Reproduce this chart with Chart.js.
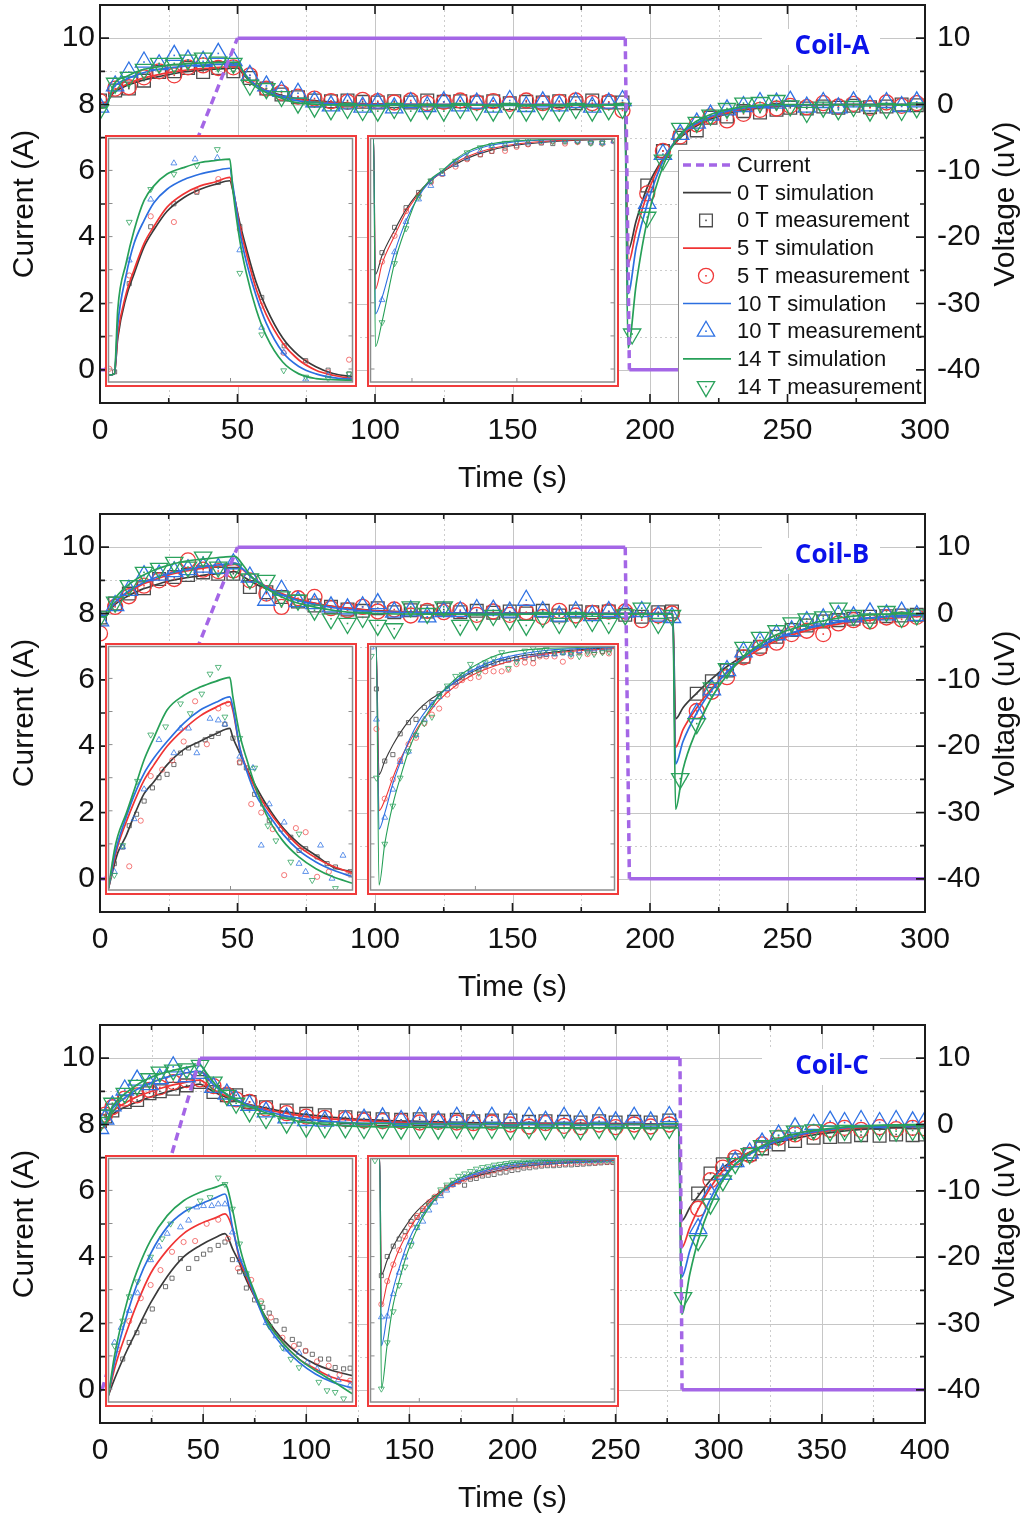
<!DOCTYPE html>
<html>
<head>
<meta charset="utf-8">
<script src="https://cdn.jsdelivr.net/npm/chart.js@4.4.1/dist/chart.umd.min.js"></script>
<style>
  html, body { margin: 0; padding: 0; background: #fff; }
  #fig { position: relative; width: 1036px; height: 1517px; overflow: hidden; }
  .panel { position: absolute; left: 0; width: 1036px; height: 497px; }
  .panel > canvas { position: absolute; left: 0; top: 0; }
  .inset { position: absolute; width: 252px; height: 252px; border: 2px solid #f03c3c; box-sizing: border-box; background: #fff; }
  .inset canvas { position: absolute; left: 0; top: 0; display: block; }
</style>
</head>
<body>
<div id="fig"></div>
<script>
"use strict";

// ---------- shared labels / ticks ----------
const FIELD_LABELS = ["0 T", "5 T", "10 T", "14 T"];
const X_TICKS_300 = [0, 50, 100, 150, 200, 250, 300];
const X_TICKS_400 = [0, 50, 100, 150, 200, 250, 300, 350, 400];
const LEFT_TICKS = [0, 2, 4, 6, 8, 10];
const RIGHT_TICKS = [-40, -30, -20, -10, 0, 10];

// ---------- Coil-A (time s, current A, voltage uV) ----------
const A_CUR_T = [0, 2, 50, 191, 192.5, 300];
const A_CUR_I = [0, 0, 10, 10, 0, 0];
const A_MEAS_T = [0, 5.5, 10.5, 16, 21.5, 27, 32, 37.5, 43, 48.5, 54.5, 60.5, 66, 72, 78, 84, 90, 95.5, 101, 107,
  113, 119, 125, 131, 137, 143, 149, 155, 161, 167, 173, 179, 185, 190, 193.5, 199, 204.7, 211, 217, 222,
  228, 234, 240, 246, 251, 257, 263, 268.5, 274, 280, 286, 291.5, 297];
const A_MEAS_0T = [0.6, 2.1, 2.4, 3.6, 4.9, 5.0, 5.5, 4.9, 5.5, 5.0, 4.0, 2.4, 1.5, 1.1, 0.6, 0.5, 0.6, 0.4, 0.3, 0.5,
  0.3, 0.6, 0.4, 0.5, 0.3, 0.5, 0.2, 0.4, 0.3, 0.5, 0.2, 0.6, 0.3, 0.3, null, -12.2, -7.0, -5.0, -3.9, -2.0,
  -1.8, -1.0, -1.2, -0.8, -0.5, -0.6, -0.3, -0.5, -0.2, -0.4, -0.3, 0, -0.1];
const A_MEAS_5T = [0.5, 2.4, 2.6, 4.1, 5.0, 4.4, 5.6, 5.9, 5.5, 5.6, 4.4, 2.4, 1.8, 1.2, 0.9, 0.5, 0.4, 0.7, 0.5, 0.3,
  0.6, 0.2, 0.4, 0.6, 0.3, 0.5, 0.1, 0.6, 0.2, 0.4, 0.6, 0.2, 0.4, -0.9, null, -13.4, -7.0, -4.8, -3.0, -1.8,
  -2.4, -1.4, -0.8, -0.6, -0.2, -0.4, 0.2, -0.3, 0.1, -0.5, 0.3, -0.2, 0.2];
const A_MEAS_10T = [-0.4, 2.8, 4.9, 6.4, 6.0, 7.4, 6.7, 6.5, 7.7, 6.6, 4.4, 2.8, 2.0, 1.7, 0.4, -0.2, 0.1, -0.4, 0.2, -0.5,
  0.3, -0.3, 0.4, -0.2, 0.2, -0.4, 0.6, -0.3, 0.4, -0.2, 0.3, -0.4, 0.2, 0.6, null, -14.9, -7.5, -4.5, -2.8, -1.6,
  -0.8, -0.3, 0.3, 0.2, 0.5, -0.4, 0.3, -0.5, 0.4, -0.2, 0.3, -0.3, 0.4];
const A_MEAS_14T = [-0.8, 3.2, 4.1, 5.3, 6.2, 6.2, 6.7, 7.0, 6.4, 6.2, 2.9, 2.4, 1.2, 0.2, -0.4, -0.8, -0.6, -0.9, -1.0, -0.6,
  -1.0, -0.7, -1.0, -0.6, -0.9, -1.0, -0.6, -1.0, -0.8, -1.0, -0.6, -1.0, -0.8, -0.6, -34.6, -17.0, -8.4, -3.6, -2.7, -1.6,
  -0.6, 0.2, 0.3, 0.6, -0.2, -1.2, -0.4, -0.8, -0.3, -1.0, -0.6, -0.9, -0.5];
const A_SIM_T = [0, 2, 5, 10, 15, 20, 25, 30, 35, 40, 45, 50, 52, 55, 60, 65, 70, 80, 90, 100,
  120, 150, 190.8, 192, 195, 199, 205, 211, 217, 222, 230, 240, 250, 270, 300];
const A_SIM_0T = [0.3, 0.3, 1.8, 2.9, 3.6, 4.1, 4.5, 4.9, 5.1, 5.3, 5.4, 5.5, 4.6, 3.4, 2.2, 1.5, 1.0, 0.5, 0.2, 0.1,
  0, 0, 0, -22, -17.5, -12.5, -8, -5, -3.2, -2.2, -1.2, -0.5, -0.2, 0, 0];
const A_SIM_5T = [0.3, 0.3, 2.0, 3.1, 3.9, 4.4, 4.8, 5.1, 5.35, 5.5, 5.65, 5.75, 4.8, 3.5, 2.2, 1.4, 0.9, 0.4, 0.15, 0.05,
  0, 0, 0, -24, -19, -13.5, -8, -4.8, -3, -2, -1.0, -0.4, -0.15, 0, 0];
const A_SIM_10T = [0, 0, 2.6, 3.9, 4.7, 5.2, 5.5, 5.75, 5.9, 6.0, 6.1, 6.15, 5.0, 3.5, 2.1, 1.3, 0.7, 0.25, 0.05, 0,
  0, 0, 0, -28.5, -21.5, -15, -8.3, -4.6, -2.8, -1.8, -0.8, -0.3, -0.1, 0, 0];
const A_SIM_14T = [-0.5, -0.5, 3.0, 4.3, 5.2, 5.6, 5.95, 6.1, 6.25, 6.3, 6.35, 6.4, 5.0, 3.2, 1.9, 1.1, 0.4, 0.0, -0.1, -0.15,
  -0.1, -0.1, -0.1, -36.7, -27, -17.5, -9, -4.5, -2.5, -1.5, -0.6, -0.1, 0, 0, 0];

// Coil-A inset 1 (ramp-up / decay)
const IN1_SIM_T = [0, 2.4, 3.8, 7.2, 10.5, 14.6, 18.6, 24, 30.8, 37.6, 44, 49.7, 51, 53.8, 56.5, 60.5, 64.6, 71.4, 78, 85, 92, 100];
const A_IN1_SIM_0T = [0, 0.04, 1.1, 2.3, 3.0, 3.8, 4.3, 4.85, 5.25, 5.5, 5.65, 5.75, 5.45, 4.5, 3.75, 2.75, 2.0, 1.1, 0.58, 0.25, 0.05, -0.05];
const A_IN1_SIM_5T = [0, 0.04, 1.2, 2.4, 3.12, 3.9, 4.4, 4.97, 5.36, 5.6, 5.72, 5.85, 5.5, 4.4, 3.6, 2.55, 1.8, 0.95, 0.45, 0.15, 0.0, -0.1];
const A_IN1_SIM_10T = [0, 0.04, 1.5, 2.95, 3.9, 4.58, 5.1, 5.5, 5.78, 5.95, 6.05, 6.12, 5.6, 4.25, 3.35, 2.35, 1.55, 0.68, 0.26, 0.04, -0.07, -0.12];
const A_IN1_SIM_14T = [0, 0.04, 1.95, 3.31, 4.29, 5.17, 5.6, 5.95, 6.14, 6.29, 6.35, 6.39, 5.46, 3.99, 3.02, 1.95, 1.17, 0.39, 0.04, -0.1, -0.13, -0.15];
const A_IN1_MEAS_0T = [[2.5, 0.1], [8.5, 2.71], [17.3, 4.39], [26.8, 5.07], [36.2, 5.41], [45, 5.7], [53.8, 4.4], [62.8, 2.3], [72, 0.87], [80.8, 0.43], [90, 0.15], [98.6, 0.04]];
const A_IN1_MEAS_5T = [[0.3, 0.19], [8.5, 2.95], [17.3, 4.7], [26.8, 4.53], [36.2, 5.45], [45, 5.8], [53.8, 4.32], [62.8, 2.06], [71.8, 0.66], [80.8, 0.39], [90, 0.09], [98.6, 0.46]];
const A_IN1_MEAS_10T = [[8.5, 3.4], [17.3, 5.2], [26.8, 6.27], [35.5, 6.39], [44.6, 6.43], [53.8, 3.7], [62.8, 1.41], [71.8, 0.68], [80.8, -0.12], [90, 0.0], [98.6, -0.1]];
const A_IN1_MEAS_14T = [[8.5, 4.53], [17.3, 5.5], [26.8, 5.95], [36.2, 6.2], [44.6, 6.68], [53.8, 3.02], [62.8, 1.2], [71.8, 0.14], [80.8, -0.05], [90, -0.1], [98.6, 0.04]];

// Coil-A inset 2 (recovery after the discharge)
const A_IN2_SIM_T = [190, 190.9, 191.4, 193.3, 196.9, 200.2, 203.5, 206.8, 210.6, 214.4, 218.2, 223.9, 230.5, 240, 250, 260];
const A_IN2_SIM_0T = [0.3, 0.3, -23.9, -20.5, -16.0, -12.3, -9.5, -7.4, -5.7, -4.3, -3.1, -1.9, -1.0, -0.35, 0, 0.2];
const A_IN2_SIM_5T = [0.3, 0.3, -26.5, -22.0, -17.0, -12.8, -9.8, -7.5, -5.6, -4.0, -2.8, -1.6, -0.8, -0.2, 0.1, 0.3];
const A_IN2_SIM_10T = [0.3, 0.3, -30.9, -28.0, -20.0, -14.3, -10.3, -7.5, -5.5, -3.6, -2.2, -1.0, -0.35, 0.05, 0.2, 0.3];
const A_IN2_SIM_14T = [0.3, 0.3, -36.7, -32.3, -21.8, -15.4, -10.1, -7.2, -5.4, -3.4, -1.9, -0.75, -0.17, 0.12, 0.25, 0.3];
const A_IN2_MEAS_T = [193.3, 196.9, 200.2, 203.8, 207.3, 210.6, 214.4, 217.7, 221.5, 224.8, 228.6, 231.9, 235.2, 239.0, 242.3, 245.8, 249.4, 253.2, 256.5, 259.8];
const A_IN2_MEAS_0T = [-20.0, -15.5, -12.0, -9.3, -7.3, -6.0, -4.3, -3.3, -2.6, -2.0, -1.4, -1.0, -0.7, -0.5, -0.6, -0.3, -0.2, -0.5, -0.3, 0.0];
const A_IN2_MEAS_5T = [-21.6, -17.0, -12.6, -9.8, -7.5, -6.0, -4.7, -3.4, -2.5, -1.9, -1.9, -1.2, -0.75, -0.35, -0.2, -0.6, -0.35, -0.2, -0.6, -0.2];
const A_IN2_MEAS_10T = [-28.4, -19.9, -14.5, -10.5, -8.1, -6.0, -4.3, -3.1, -1.9, -1.0, -0.75, -0.5, -0.35, -0.2, 0.0, 0.0, -0.05, -0.2, -0.5, -0.2];
const A_IN2_MEAS_14T = [-32.4, -21.9, -15.7, -10.1, -7.2, -5.4, -3.7, -2.2, -1.3, -0.9, -0.5, -0.2, -0.05, -0.05, -0.2, -0.05, -0.2, -0.5, -0.5, 0.1];

// ---------- Coil-B ----------
const B_CUR_T = [0, 2, 50, 191, 192.5, 300];
const B_CUR_I = [0, 0, 10, 10, 0, 0];
const B_MEAS_T = [0, 5.5, 10.5, 16, 21.5, 27, 32, 37.5, 43, 48.5, 54.5, 60.5, 66, 72, 78, 84, 90, 95.5, 101, 107,
  113, 119, 125, 131, 137, 143, 149, 155, 161, 167, 173, 179, 185, 191, 197, 203, 208, 211, 217, 222.5,
  228, 234, 240, 246, 251.5, 257, 263, 268.5, 274, 280, 286, 291.5, 297];
const B_MEAS_0T = [-0.6, 1.5, 3.0, 3.8, 5.2, 5.5, 5.8, 6.2, 6.0, 6.0, 4.0, 3.2, 2.5, 1.8, 1.2, 1.0, 0.6, 0.4, 0.8, 0.2,
  0.5, 0.3, 0.6, 0.2, 0.4, 0.1, 0.3, 0.0, 0.4, -0.3, 0.3, 0.2, 0.3, -0.2, -0.5, 0.2, 0.3, null, -12.1, -10.2,
  -8.6, -6.5, -5.0, -3.5, -2.5, -1.8, -1.2, -1.0, -0.8, -0.5, -0.4, -0.3, -0.2];
const B_MEAS_5T = [-3.0, 1.0, 2.6, 4.2, 5.0, 5.2, 8.0, 6.6, 6.4, 6.5, 5.0, 3.0, 1.0, 2.3, 2.5, 0.8, 0.5, 1.0, 0.3, 0.6,
  -0.3, 0.4, 0.2, 0.5, -0.2, 0.3, -0.2, 0.2, -0.5, 0.4, -0.3, 0.1, 0.3, 0.3, -1.0, -0.3, 0.0, null, -14.7, -11.8,
  -9.6, -6.6, -5.2, -4.4, -3.1, -2.6, -3.1, -1.5, -1.0, -1.2, -0.6, -0.9, -0.5];
const B_MEAS_10T = [-1.1, 1.2, 3.5, 5.7, 5.8, 6.3, 6.6, 7.0, 6.8, 7.5, 5.5, 2.0, 3.5, 1.8, 1.5, 1.0, 0.7, 1.0, 1.5, 0.2,
  0.4, -0.5, 0.3, 0.3, 0.6, 0.5, 0.2, 2.0, 0.3, -0.4, 0.3, -0.3, 0.3, 0.2, 0.3, -0.4, -0.6, null, -15.1, -11.5,
  -8.6, -5.8, -4.3, -3.2, -2.6, -1.2, -0.8, -0.3, -0.5, 0.1, -0.2, 0.2, -0.3];
const B_MEAS_14T = [-0.5, 1.7, 4.2, 6.2, 6.8, 7.7, 7.0, 8.5, 7.0, 6.7, 5.2, 5.0, 2.5, 2.0, 0.5, -0.8, -1.5, -0.6, -1.8, -2.3,
  1.0, 0.0, 1.0, -1.8, -1.0, -0.3, -1.0, -1.8, -0.6, -1.5, -0.6, -1.2, -1.5, -0.2, 0.8, -1.5, -0.3, -24.9, -16.6, -11.2,
  -8.3, -5.1, -3.6, -2.6, -1.4, -0.8, -0.5, 0.8, -0.3, -0.8, 0.3, -0.6, -0.2];
const B_SIM_T = [0, 2, 5, 10, 15, 20, 25, 30, 35, 40, 45, 49, 52, 55, 60, 65, 70, 80, 90, 100,
  120, 150, 208.3, 209.3, 212, 217, 222, 228, 235, 245, 255, 270, 285, 300];
const B_SIM_0T = [-0.3, -0.3, 1.2, 2.6, 3.6, 4.3, 4.9, 5.3, 5.6, 5.9, 6.1, 6.3, 5.6, 4.8, 3.8, 3.0, 2.3, 1.4, 0.8, 0.45,
  0.15, 0.05, 0, -15.9, -14.2, -12, -10, -8, -6.2, -4.0, -2.5, -1.2, -0.5, -0.2];
const B_SIM_5T = [-0.3, -0.3, 1.4, 3.1, 4.3, 5.1, 5.8, 6.3, 6.7, 7.0, 7.2, 7.4, 6.6, 5.5, 4.2, 3.2, 2.4, 1.4, 0.8, 0.4,
  0.1, 0, 0, -20.2, -17.5, -14.2, -11.5, -8.9, -6.6, -4.3, -2.8, -1.5, -0.8, -0.4];
const B_SIM_10T = [-0.3, -0.3, 1.5, 3.3, 4.5, 5.4, 6.0, 6.5, 6.9, 7.2, 7.4, 7.6, 6.7, 5.5, 4.1, 3.0, 2.2, 1.2, 0.6, 0.3,
  0.1, 0, 0, -22.7, -19.3, -15.0, -11.8, -8.8, -6.3, -3.9, -2.5, -1.2, -0.5, -0.2];
const B_SIM_14T = [-0.5, -0.5, 2.0, 4.2, 5.6, 6.6, 7.3, 7.8, 8.1, 8.3, 8.5, 8.6, 7.3, 5.6, 3.9, 2.7, 1.8, 0.8, 0.2, 0,
  -0.1, -0.1, -0.1, -29.5, -23.5, -17.5, -13.0, -9.3, -6.2, -3.4, -1.9, -0.6, -0.1, 0];

const B_IN1_SIM_0T = [-0.15, 0.55, 0.9, 1.4, 2.0, 2.65, 3.0, 3.5, 3.95, 4.2, 4.42, 4.58, 4.3, 3.85, 3.41, 2.85, 2.34, 1.65, 1.17, 0.82, 0.48, 0.34];
const B_IN1_SIM_5T = [-0.15, 0.7, 1.1, 1.8, 2.4, 3.05, 3.5, 4.05, 4.55, 4.95, 5.2, 5.36, 5.1, 4.0, 3.4, 2.75, 2.25, 1.6, 1.1, 0.75, 0.5, 0.3];
const B_IN1_SIM_10T = [-0.15, 0.8, 1.2, 1.95, 2.6, 3.25, 3.7, 4.19, 4.73, 5.12, 5.35, 5.51, 5.2, 4.0, 3.35, 2.6, 2.14, 1.46, 0.97, 0.63, 0.39, 0.19];
const B_IN1_SIM_14T = [-0.15, 0.97, 1.4, 2.05, 2.75, 3.65, 4.3, 5.12, 5.55, 5.8, 5.97, 6.09, 5.5, 4.39, 3.7, 2.8, 2.04, 1.26, 0.78, 0.43, 0.19, 0.0];
const B_IN1_MEAS_0T = [[2.4, 0.58], [5.8, 1.07], [8.5, 1.7], [11.5, 2.04], [14.6, 2.43], [18, 2.82], [20.7, 3.12], [24, 3.22], [26.8, 3.51], [29.5, 3.85],
  [32.8, 4.0], [36.2, 4.09], [39.6, 4.24], [42.3, 4.34], [45, 4.43], [47.7, 4.7], [51, 4.29], [53.8, 3.56], [56.5, 3.41], [59.9, 2.63],
  [63.2, 2.34], [65.9, 1.85], [70.7, 1.6], [74.7, 1.36], [78.1, 0.97], [80.8, 1.02], [85.5, 0.78], [89.6, 0.58], [93, 0.48], [99, 0.34]];
const B_IN1_MEAS_5T = [[8.5, 0.5], [13.2, 1.85], [17.3, 3.17], [22, 3.36], [26.1, 3.63], [30.8, 4.19], [35.5, 5.38], [40.3, 4.11], [45, 5.17], [49, 5.31],
  [53.8, 3.59], [58.5, 2.34], [62.6, 2.09], [67.3, 1.6], [72, 0.24], [76.8, 1.63], [80.8, 1.51], [85.5, 0.19], [90.3, 0.34], [98.4, 0.29]];
const B_IN1_MEAS_10T = [[2.4, 0.34], [5.8, 1.07], [10.5, 1.9], [14.6, 2.78], [20.7, 4.24], [26.8, 3.85], [29.5, 4.58], [32.8, 4.58], [36.2, 3.85], [41.6, 4.87],
  [45, 4.82], [47.7, 4.7], [53.8, 3.75], [59.2, 3.41], [62.6, 1.12], [65.9, 2.34], [72, 1.8], [78.1, 0.58], [80.8, 0.34], [86.9, 1.12], [91.6, 0.14], [96.1, 0.82]];
const B_IN1_MEAS_14T = [[2.4, 0.24], [5.8, 1.12], [11.9, 3.02], [17.3, 4.39], [23.4, 4.63], [29.5, 5.31], [33.5, 5.02], [38.2, 5.6], [41.6, 6.19], [45, 6.39],
  [47.7, 4.92], [53.8, 4.29], [59.9, 3.41], [65.3, 1.7], [68.6, 1.26], [74.7, 0.63], [78.1, 1.46], [83.5, 0.09], [93, -0.15]];

const B_IN2_SIM_T = [205, 207.9, 209.3, 212.2, 216.3, 220.5, 224.7, 229.7, 234.7, 239.7, 248, 256.3, 268, 279.7, 293, 309.7, 328.3];
const B_IN2_SIM_0T = [0.3, 0.3, -15.7, -14.0, -12.0, -10.3, -8.9, -7.5, -6.4, -5.6, -4.15, -2.9, -1.7, -0.94, -0.52, -0.1, 0.18];
const B_IN2_SIM_5T = [0.3, 0.3, -20.2, -18.9, -16.1, -13.6, -11.6, -9.5, -7.9, -6.4, -4.6, -3.3, -2.1, -1.3, -0.65, -0.24, 0.05];
const B_IN2_SIM_10T = [0.3, 0.3, -22.5, -20.5, -16.8, -13.9, -11.3, -8.9, -7.2, -5.8, -4.0, -2.7, -1.4, -0.7, -0.2, 0.05, 0.25];
const B_IN2_SIM_14T = [0.3, 0.3, -29.5, -24.35, -19.4, -15.7, -12.4, -9.7, -7.66, -5.8, -3.74, -2.3, -0.85, -0.24, 0.05, 0.18, 0.3];
const B_IN2_MEAS_T = [205.4, 208, 212.2, 216.3, 220, 224.2, 228, 232.2, 236, 239.7, 243.8, 248, 251.3, 255.5, 259.7, 263,
  267.2, 271.3, 274.7, 278.8, 283, 287.2, 290.5, 293.8, 298, 302.2, 306.3, 310.5, 314.7, 318, 322.2, 325.5];
const B_IN2_MEAS_0T = [null, -5.0, -14.0, -13.2, -10.6, -9.2, -8.8, -7.3, -6.7, -5.6, -5.0, -4.15, -3.6, -2.9, -2.5, -2.1,
  -1.8, -1.6, -1.4, -1.2, -1.1, -1.2, -0.8, -0.7, -0.6, -0.5, -0.4, -0.3, -0.25, -0.2, -0.3, -0.1];
const B_IN2_MEAS_5T = [null, -10.0, -18.7, -16.3, -13.9, -11.9, -11.1, -9.3, -8.2, -7.45, -5.7, -4.6, -3.9, -3.66, -3.5, -2.8,
  -2.8, -2.8, -2.6, -1.9, -1.7, -1.8, -0.94, -0.94, -0.94, -1.6, -0.94, -0.45, -0.65, -0.45, -0.36, -0.57];
const B_IN2_MEAS_10T = [0.2, -8.8, -21.05, -17.55, -14.1, -12.8, -10.75, -8.8, -7.0, -6.0, -5.0, -4.15, -3.3, -2.6, -2.3, -1.97,
  -1.7, -1.27, -1.27, -1.27, -0.85, -0.65, -0.65, -0.65, -0.65, -0.45, -0.65, -0.24, -0.03, -0.03, 0.05, 0.18];
const B_IN2_MEAS_14T = [-0.9, -16.1, -24.35, -19.6, -16.1, -12.8, -10.75, -9.3, -8.5, -5.9, -4.6, -3.4, -3.2, -1.9, -3.0, -1.7,
  -1.2, -0.44, -2.4, -1.6, -0.24, 0.05, -0.24, -0.03, -0.44, -0.36, -0.65, -0.94, -0.44, -0.65, -0.44, -0.36];

// ---------- Coil-C ----------
const C_CUR_T = [0, 1, 48.5, 281.2, 282.2, 400];
const C_CUR_I = [0, 0, 10, 10, 0, 0];
const C_MEAS_T = [0, 2.5, 6, 12, 18, 24, 29, 35.5, 42, 48.5, 55, 61.5, 66, 72.5, 80.5, 90.5, 100, 109, 119, 128,
  137, 146, 155, 164, 173, 181, 190, 199, 208, 216, 225, 233, 242, 250, 259, 267, 276, 282.7, 290, 296,
  302, 308, 315, 321, 329, 337, 346, 354, 361, 369, 378, 386, 394, 400];
const C_MEAS_0T = [0.5, 1.2, 2.1, 3.4, 3.7, 4.7, 5.0, 5.4, 5.9, 6.4, 4.9, 4.4, 4.4, 3.4, 2.6, 2.1, 1.6, 1.4, 1.1, 0.9,
  0.8, 0.7, 0.8, 0.6, 0.7, 0.5, 0.6, 0.6, 0.4, 0.5, 0.4, 0.3, 0.5, 0.3, 0.4, 0.3, 0.6, null, -10.4, -7.4,
  -6.0, -5.4, -4.5, -3.6, -3.0, -2.5, -2.0, -1.9, -1.8, -1.6, -1.7, -1.5, -1.6, -1.5];
const C_MEAS_5T = [0.5, 1.5, 2.6, 3.9, 4.4, 5.2, 5.6, 6.4, 6.7, 6.8, 5.8, 4.5, 3.8, 3.4, 2.4, 1.7, 1.2, 1.0, 0.8, 0.6,
  0.5, 0.5, 0.3, 0.4, 0.3, 0.2, 0.3, 0.0, -0.3, 0.2, -0.2, -0.4, 0.0, -0.4, 0.0, -0.3, 0.0, null, -12.7, -8.4,
  -6.5, -5.0, -4.6, -3.0, -2.0, -1.5, -1.2, -0.8, -0.5, -0.8, -0.4, -0.7, -0.5, -0.6];
const C_MEAS_10T = [-0.6, 0.8, 2.8, 5.2, 6.7, 6.0, 6.9, 8.7, 7.2, 7.7, 5.6, 4.6, 3.6, 2.9, 1.9, 1.0, 0.6, 0.5, 0.6, 0.8,
  1.0, 0.6, 1.1, 0.5, 1.1, 0.5, 1.1, 0.6, 1.1, 0.5, 1.1, 0.6, 1.1, 0.4, 1.1, 0.4, 1.2, null, -15.7, -10.5,
  -7.5, -5.6, -4.3, -2.8, -1.6, -0.5, 0.0, 0.5, 0.3, 0.6, 0.3, 0.6, 0.4, 0.5];
const C_MEAS_14T = [0.3, 1.4, 3.2, 4.7, 5.9, 6.9, 7.9, 8.2, 8.4, 8.9, 6.4, 4.4, 3.2, 1.9, 0.9, 0.2, -0.4, -0.5, -0.5, -0.6,
  -0.6, -0.7, -0.6, -0.7, -0.6, -0.7, -0.6, -0.8, -0.6, -0.8, -0.6, -0.8, -0.6, -0.8, -0.7, -0.8, -0.6, -26.1, -17.5, -12.0,
  -8.5, -5.9, -4.4, -3.2, -1.7, -1.0, -0.8, -1.0, -0.9, -1.1, -0.9, -1.0, -0.9, -1.0];
const C_SIM_T = [0, 2, 6, 12, 18, 24, 30, 36, 42, 48.5, 52, 56, 62, 70, 80, 90, 100, 120, 150, 200,
  280.5, 282, 286, 290, 296, 302, 308, 315, 325, 340, 360, 380, 400];
const C_SIM_0T = [0, 0, 1.5, 2.6, 3.4, 4.1, 4.7, 5.2, 5.7, 6.1, 5.5, 4.8, 4.0, 3.2, 2.5, 1.9, 1.5, 0.9, 0.5, 0.2,
  0, -14.5, -12.5, -10.8, -8.4, -6.5, -5.3, -4.2, -3.0, -1.9, -1.0, -0.5, -0.3];
const C_SIM_5T = [0, 0, 1.9, 3.2, 4.2, 4.9, 5.5, 6.0, 6.4, 6.7, 6.0, 5.1, 4.2, 3.2, 2.3, 1.7, 1.2, 0.7, 0.3, 0.1,
  0, -18.6, -15.5, -12.8, -9.5, -7.0, -5.4, -4.2, -2.8, -1.6, -0.7, -0.3, -0.1];
const C_SIM_10T = [0, 0, 2.4, 4.0, 5.3, 6.2, 6.9, 7.4, 7.8, 8.0, 7.0, 5.7, 4.4, 3.2, 2.1, 1.3, 0.8, 0.3, 0.1, 0,
  0, -23, -19, -15.5, -11.2, -8.0, -6.0, -4.5, -2.9, -1.5, -0.5, -0.2, 0];
const C_SIM_14T = [0, 0, 2.7, 4.6, 6.0, 7.0, 7.7, 8.2, 8.6, 8.9, 7.6, 6.0, 4.4, 3.0, 1.8, 0.9, 0.3, -0.2, -0.4, -0.5,
  -0.5, -28.6, -22.5, -17.5, -12.2, -8.4, -6.0, -4.3, -2.6, -1.2, -0.4, -0.1, 0];

const C_IN1_SIM_T = [0, 2.5, 7.9, 12, 17.5, 24.4, 31.2, 38.1, 44.9, 48.4, 51.8, 54.5, 57.3, 61.4, 65.5, 72.3, 79.2, 86, 92.9, 101.4];
const C_IN1_SIM_0T = [0, 0.48, 1.36, 1.95, 2.73, 3.51, 4.09, 4.43, 4.68, 4.78, 4.29, 3.9, 3.41, 2.82, 2.29, 1.65, 1.21, 0.92, 0.73, 0.58];
const C_IN1_SIM_5T = [0, 0.78, 1.95, 2.73, 3.6, 4.29, 4.78, 5.07, 5.26, 5.36, 4.87, 4.0, 3.51, 2.82, 2.24, 1.56, 1.07, 0.78, 0.53, 0.39];
const C_IN1_SIM_10T = [0, 0.97, 2.43, 3.31, 4.19, 4.97, 5.41, 5.65, 5.85, 5.95, 4.87, 4.09, 3.6, 2.82, 2.14, 1.46, 0.97, 0.63, 0.39, 0.21];
const C_IN1_SIM_14T = [0, 1.17, 2.82, 3.7, 4.58, 5.31, 5.75, 6.0, 6.16, 6.24, 5.4, 4.4, 3.7, 2.92, 2.24, 1.56, 1.07, 0.73, 0.43, 0.04];
const C_IN1_MEAS_0T = [[5.9, 1.07], [8.6, 1.56], [11.8, 1.85], [14.8, 2.19], [18.2, 2.55], [23.7, 3.21], [26.4, 3.46], [29.9, 4.04], [33.3, 3.75], [36.7, 4.04],
  [39.5, 4.17], [42.2, 4.3], [45.6, 4.43], [48.4, 4.53], [51.5, 4.01], [54.5, 3.65], [57.3, 3.17], [60.7, 2.82], [64.1, 2.6], [66.8, 2.43],
  [69.6, 2.2], [73, 1.95], [76.4, 1.65], [79.2, 1.51], [81.9, 1.31], [84.7, 1.21], [88.1, 1.07], [91.5, 1.07], [94.2, 0.82], [97.7, 0.78], [100.4, 0.8]];
const C_IN1_MEAS_5T = [[3.8, 1.36], [8.6, 2.19], [13.4, 2.87], [17.5, 3.26], [21.6, 3.7], [26.4, 4.24], [31.2, 4.53], [36, 4.56], [40.8, 5.07], [45.6, 5.19],
  [49.7, 4.63], [53.8, 3.75], [59.3, 3.41], [63.4, 2.78], [67.5, 2.3], [72.3, 1.7], [77.1, 1.46], [81.9, 1.31], [86.7, 1.0], [91.5, 0.87], [96, 0.6], [100.4, 0.43]];
const C_IN1_MEAS_10T = [[2.5, 1.56], [5.2, 2.0], [8.6, 2.5], [12.1, 3.02], [17.5, 4.0], [21, 4.4], [24.4, 4.78], [29.9, 4.97], [33.3, 5.17], [36.7, 5.56],
  [39.5, 5.6], [42.9, 5.6], [45.6, 5.65], [48.4, 5.65], [51.5, 4.82], [54.5, 4.0], [57.3, 3.6], [65.5, 2.14], [69.6, 1.75], [73.7, 1.36],
  [79.2, 1.26], [82.6, 0.97], [86.7, 0.78], [91.5, 0.53], [95.5, 0.45], [100.4, 0.29]];
const C_IN1_MEAS_14T = [[2.5, 1.46], [5.9, 2.2], [8.6, 2.92], [12.1, 3.36], [17.5, 4.09], [22.3, 4.63], [25.8, 5.07], [33.3, 5.51], [38.1, 5.75], [42.2, 5.85],
  [45.6, 6.43], [48.4, 6.24], [51.5, 5.51], [54.5, 4.48], [57.3, 3.6], [63.4, 2.73], [66.8, 2.04], [72.3, 1.41], [75.8, 1.07], [79.2, 0.82],
  [87.4, 0.39], [90.8, 0.14], [94.2, 0.09], [97.7, -0.1]];

const C_IN2_SIM_T = [275.4, 280.6, 281.5, 284.7, 288, 291.7, 295.4, 299.1, 303.7, 308.4, 313.9, 321.3, 330.6, 341.7, 354.7, 373.2, 391.7, 412.4];
const C_IN2_SIM_0T = [0.3, 0.3, -14.3, -12.5, -10.8, -9.35, -8.1, -6.9, -5.8, -4.9, -4.0, -3.0, -2.2, -1.5, -0.86, -0.45, -0.16, 0.05];
const C_IN2_SIM_5T = [0.3, 0.3, -18.2, -15.4, -13.1, -11.0, -9.35, -7.9, -6.45, -5.2, -4.1, -3.1, -2.1, -1.27, -0.65, -0.24, -0.03, 0.1];
const C_IN2_SIM_10T = [0.3, 0.3, -23.2, -19.5, -16.2, -13.3, -10.8, -8.9, -7.1, -5.6, -4.2, -2.9, -1.9, -1.07, -0.45, -0.1, 0.05, 0.18];
const C_IN2_SIM_14T = [0.3, 0.3, -28.6, -23.2, -18.2, -14.9, -12.0, -9.8, -7.5, -5.8, -4.2, -2.7, -1.7, -0.86, -0.24, 0.05, 0.18, 0.3];
const C_IN2_MEAS_T = [277.9, 281.5, 284.8, 288.2, 291.5, 294.8, 298.2, 301.5, 304.8, 308.2, 311.5, 314.8, 318.2, 321.5, 324.8, 328.2, 331.5, 334.8, 338.2, 341.5,
  344.8, 348.2, 351.5, 354.8, 358.2, 361.5, 364.8, 368.2, 371.5, 374.8, 378.2, 381.5, 384.8, 388.2, 391.5, 394.8, 398.2, 401.5, 404.8, 408.2, 411.5];
const C_IN2_MEAS_0T = [null, -14.4, -12.0, -10.7, -9.8, -8.85, -7.6, -7.1, -6.2, -5.4, -4.7, -4.1, -3.3, -2.9, -2.6, -3.05, -2.3, -2.2, -1.9, -1.8,
  -1.7, -1.5, -1.4, -1.2, -1.1, -0.9, -0.86, -0.75, -0.65, -0.6, -0.6, -0.55, -0.5, -0.5, -0.45, -0.4, -0.35, -0.3, -0.25, -0.2, -0.2];
const C_IN2_MEAS_5T = [null, -18.0, -15.1, -13.0, -11.2, -9.5, -8.0, -6.9, -6.0, -5.2, -4.5, -3.9, -3.4, -3.0, -2.6, -2.3, -2.0, -1.8, -1.6, -1.4,
  -1.2, -1.0, -0.9, -0.8, -0.7, -0.6, -0.55, -0.5, -0.45, -0.35, -0.4, -0.3, -0.3, -0.25, -0.2, -0.2, -0.15, -0.2, -0.1, -0.1, -0.1];
const C_IN2_MEAS_10T = [null, -19.6, -19.5, -16.7, -14.0, -12.1, -10.1, -8.4, -7.6, -6.2, -5.2, -4.4, -3.7, -3.0, -2.5, -2.1, -1.8, -1.5, -1.3, -1.1,
  -0.9, -0.8, -0.65, -0.5, -0.45, -0.4, -0.3, -0.3, -0.2, -0.2, -0.15, -0.1, -0.1, -0.05, -0.05, 0, 0, 0.05, 0.05, 0.1, 0.1];
const C_IN2_MEAS_14T = [0.05, -28.6, -22.8, -18.9, -15.6, -13.3, -10.6, -8.3, -6.7, -5.6, -4.6, -3.6, -3.0, -2.4, -1.9, -1.6, -1.3, -1.0, -0.8, -0.7,
  -0.5, -0.4, -0.3, -0.2, -0.2, -0.1, -0.1, 0, 0, 0, 0.05, 0.05, 0.05, 0.1, 0.1, 0.1, 0.1, 0.1, 0.1, 0.1, 0.1];

// ---------- styles ----------
const FONT = '"Liberation Sans", Arial, sans-serif';
const LINE_COLORS = ["#3a3a3a", "#f03434", "#2c6fe0", "#27a058"];
const MARK_COLORS = ["#4d4d4d", "#f03a3a", "#2f72e4", "#2ba25c"];
const INSET_MARK_COLORS = ["rgba(70,70,70,0.85)", "rgba(240,70,70,0.8)", "rgba(47,114,228,0.85)", "rgba(43,162,92,0.85)"];
const MARK_STYLES = ["rect", "circle", "triangle", "triangle"];
const MARK_ROT = [0, 0, 0, 180];
const MAIN_RADII = [9, 7.5, 10, 10];
const INSET_RADII = [2.9, 2.6, 3.4, 3.4];
const CURRENT_COLOR = "#a466e6";
const AREA = { top: 5, bottom: 403 };   // plot-area edges inside each panel canvas

function pts(T, V) {
  const out = [];
  T.forEach((t, i) => { if (V[i] !== null && V[i] !== undefined) out.push({ x: t, y: V[i] }); });
  return out;
}
function pairPts(P) { return P.map(p => ({ x: p[0], y: p[1] })); }

// ---------- plugins ----------
const gridPlugin = {
  id: "mainGrid",
  beforeDatasetsDraw(chart) {
    const { ctx, chartArea: a, scales } = chart;
    const x = scales.x, y = scales.yL;
    ctx.save();
    ctx.lineWidth = 1;
    for (let t = 25; t < x.max; t += 25) {
      const px = Math.round(x.getPixelForValue(t)) + 0.5;
      const major = t % 50 === 0;
      ctx.strokeStyle = major ? "#c6c6c6" : "#cdcdcd";
      ctx.setLineDash(major ? [] : [2, 3]);
      ctx.beginPath(); ctx.moveTo(px, a.top); ctx.lineTo(px, a.bottom); ctx.stroke();
    }
    for (let v = 0; v <= 10; v++) {
      const py = Math.round(y.getPixelForValue(v)) + 0.5;
      const major = v % 2 === 0;
      ctx.strokeStyle = major ? "#c6c6c6" : "#cdcdcd";
      ctx.setLineDash(major ? [] : [2, 3]);
      ctx.beginPath(); ctx.moveTo(a.left, py); ctx.lineTo(a.right, py); ctx.stroke();
    }
    ctx.restore();
  }
};

const framePlugin = {
  id: "mainFrame",
  afterDraw(chart) {
    const { ctx, chartArea: a, scales } = chart;
    const x = scales.x, yL = scales.yL, yR = scales.yR;
    ctx.save();
    ctx.setLineDash([]);
    ctx.strokeStyle = "#1c1c1c";
    ctx.lineWidth = 2;
    ctx.strokeRect(a.left, a.top, a.right - a.left, a.bottom - a.top);
    ctx.lineWidth = 1.6;
    ctx.beginPath();
    for (let t = 25; t < x.max; t += 25) {
      const px = x.getPixelForValue(t), L = t % 50 === 0 ? 9 : 5;
      ctx.moveTo(px, a.bottom); ctx.lineTo(px, a.bottom - L);
      ctx.moveTo(px, a.top); ctx.lineTo(px, a.top + L);
    }
    for (let v = 0; v <= 10; v++) {
      const py = yL.getPixelForValue(v), L = v % 2 === 0 ? 9 : 5;
      ctx.moveTo(a.left, py); ctx.lineTo(a.left + L, py);
    }
    for (let v = -40; v <= 10; v += 5) {
      const py = yR.getPixelForValue(v), L = v % 10 === 0 ? 9 : 5;
      ctx.moveTo(a.right, py); ctx.lineTo(a.right - L, py);
    }
    ctx.stroke();
    ctx.restore();
  }
};

const dotPlugin = {
  id: "centerDots",
  afterDatasetDraw(chart, args) {
    const ds = chart.data.datasets[args.index];
    if (!ds.centerDot) return;
    const ctx = chart.ctx, a = chart.chartArea;
    ctx.save();
    ctx.fillStyle = ds.pointBorderColor;
    args.meta.data.forEach(el => {
      if (el.x >= a.left && el.x <= a.right && el.y >= a.top && el.y <= a.bottom) ctx.fillRect(el.x - 0.8, el.y - 0.8, 1.6, 1.6);
    });
    ctx.restore();
  }
};

const labelPlugin = {
  id: "coilLabel",
  afterDatasetsDraw(chart, args, o) {
    if (!o || !o.text) return;
    const ctx = chart.ctx;
    ctx.save();
    ctx.fillStyle = "#fff";
    ctx.fillRect(762, 29, 118, 36);
    ctx.font = 'bold 26px "Open Sans", "Liberation Sans", sans-serif';
    ctx.fillStyle = "#0b12ea";
    ctx.textAlign = "center";
    ctx.textBaseline = "middle";
    ctx.fillText(o.text, 832, 47);
    ctx.restore();
  }
};

const LEGEND_ORDER = ["Current", "0 T simulation", "0 T measurement", "5 T simulation", "5 T measurement",
  "10 T simulation", "10 T measurement", "14 T simulation", "14 T measurement"];

const legendPlugin = {
  id: "boxLegend",
  afterDatasetsDraw(chart, args, o) {
    if (!o || !o.show) return;
    const ctx = chart.ctx, a = chart.chartArea;
    const left = 678, top = 150, right = a.right, bottom = a.bottom;
    ctx.save();
    ctx.fillStyle = "#fff";
    ctx.fillRect(left, top, right - left, bottom - top);
    ctx.strokeStyle = "#8a8a8a";
    ctx.lineWidth = 1;
    ctx.strokeRect(left + 0.5, top + 0.5, right - left, bottom - top);
    ctx.font = "22px " + FONT;
    ctx.textBaseline = "middle";
    ctx.textAlign = "left";
    LEGEND_ORDER.forEach((label, i) => {
      const ds = chart.data.datasets.find(d => d.label === label);
      const y = top + 15 + i * 27.7;
      if (ds.showLine === false) {
        ctx.strokeStyle = ds.pointBorderColor;
        ctx.fillStyle = "rgba(0,0,0,0)";
        ctx.lineWidth = ds.pointBorderWidth;
        ctx.setLineDash([]);
        Chart.helpers.drawPoint(ctx, { pointStyle: ds.pointStyle, rotation: ds.pointRotation || 0, radius: ds.pointRadius, borderWidth: ds.pointBorderWidth }, 706, y);
        ctx.fillStyle = ds.pointBorderColor;
        ctx.fillRect(705.2, y - 0.8, 1.6, 1.6);
      } else {
        ctx.strokeStyle = ds.borderColor;
        ctx.lineWidth = ds.borderWidth;
        ctx.setLineDash(ds.legendDash || []);
        ctx.beginPath(); ctx.moveTo(683, y); ctx.lineTo(731, y); ctx.stroke();
        ctx.setLineDash([]);
      }
      ctx.fillStyle = "#111";
      ctx.fillText(label, 737, y + 1);
    });
    ctx.restore();
  }
};

const rightTitlePlugin = {
  id: "rightTitle",
  afterDraw(chart, args, o) {
    if (!o || !o.text) return;
    const ctx = chart.ctx, a = chart.chartArea;
    ctx.save();
    ctx.translate(1006, (a.top + a.bottom) / 2);
    ctx.rotate(-Math.PI / 2);
    ctx.font = "30px " + FONT;
    ctx.fillStyle = "#111";
    ctx.textAlign = "center";
    ctx.textBaseline = "middle";
    ctx.fillText(o.text, 0, 0);
    ctx.restore();
  }
};

const insetFramePlugin = {
  id: "insetFrame",
  afterDraw(chart, args, o) {
    const { ctx, chartArea: a } = chart;
    ctx.save();
    ctx.strokeStyle = "#8c8c8c";
    ctx.lineWidth = 1.5;
    ctx.strokeRect(a.left, a.top, a.right - a.left, a.bottom - a.top);
    ctx.lineWidth = 1;
    ctx.beginPath();
    for (let py = a.bottom - 13; py > a.top + 4; py -= 33.1) {
      ctx.moveTo(a.left, py); ctx.lineTo(a.left + 4, py);
      ctx.moveTo(a.right, py); ctx.lineTo(a.right - 4, py);
    }
    (o.xFrac || []).forEach(f => {
      const px = a.left + f * (a.right - a.left);
      ctx.moveTo(px, a.bottom); ctx.lineTo(px, a.bottom - 4);
    });
    ctx.stroke();
    ctx.restore();
  }
};

// ---------- builders ----------
function mainDatasets(p) {
  const ds = [{
    label: "Current", yAxisID: "yL", data: pts(p.curT, p.curI),
    borderColor: CURRENT_COLOR, borderWidth: 3.5, pointRadius: 0, tension: 0, borderCapStyle: "butt",
    segment: { borderDash: c => (c.p0.parsed.y !== c.p1.parsed.y ? [8, 5] : undefined) },
    legendDash: [8, 5]
  }];
  for (let k = 3; k >= 0; k--) {
    ds.push({
      label: FIELD_LABELS[k] + " measurement", yAxisID: "yR", data: pts(p.measT, p.meas[k]),
      showLine: false, pointStyle: MARK_STYLES[k], pointRotation: MARK_ROT[k], pointRadius: MAIN_RADII[k],
      pointBorderColor: MARK_COLORS[k], pointBackgroundColor: "rgba(0,0,0,0)", pointBorderWidth: 1.3,
      borderColor: MARK_COLORS[k], centerDot: true
    });
    ds.push({
      label: FIELD_LABELS[k] + " simulation", yAxisID: "yR", data: pts(p.simT, p.sim[k]),
      borderColor: LINE_COLORS[k], borderWidth: 1.7, pointRadius: 0, cubicInterpolationMode: "monotone"
    });
  }
  return ds;
}

// axes get no extra edge padding, so the plot area is set only by the axis sizes below
function noEdgePadding(s) {
  s.paddingTop = 0; s.paddingBottom = 0; s.paddingLeft = 0; s.paddingRight = 0;
}

function mainOptions(p) {
  const tickFont = { family: FONT, size: 30 };
  return {
    responsive: false, animation: false, events: [],
    layout: { autoPadding: false, padding: { top: AREA.top, left: 0, right: 0, bottom: 0 } },
    plugins: {
      legend: { display: false }, tooltip: { enabled: false },
      coilLabel: { text: p.name }, boxLegend: { show: p.legend }, rightTitle: { text: "Voltage (uV)" }
    },
    scales: {
      x: {
        type: "linear", min: 0, max: p.xTicks[p.xTicks.length - 1],
        afterBuildTicks: s => { s.ticks = p.xTicks.map(v => ({ value: v })); },
        afterFit: s => { s.height = 497 - AREA.bottom; noEdgePadding(s); },
        grid: { display: false, drawTicks: false }, border: { display: false },
        ticks: { font: tickFont, color: "#111", padding: 10, maxRotation: 0, autoSkip: false },
        title: { display: true, text: "Time (s)", font: tickFont, color: "#111", padding: { top: 0, bottom: 0 } }
      },
      yL: {
        position: "left", min: -1, max: 11,
        afterBuildTicks: s => { s.ticks = LEFT_TICKS.map(v => ({ value: v })); },
        afterFit: s => { s.width = 100; noEdgePadding(s); },
        grid: { display: false, drawTicks: false }, border: { display: false },
        ticks: { font: tickFont, color: "#111", padding: 5 },
        title: { display: true, text: "Current (A)", font: tickFont, color: "#111", padding: { top: 7, bottom: 0 } }
      },
      yR: {
        position: "right", min: -45, max: 15,
        afterBuildTicks: s => { s.ticks = RIGHT_TICKS.map(v => ({ value: v })); },
        afterFit: s => { s.width = 111; noEdgePadding(s); },
        grid: { display: false, drawTicks: false }, border: { display: false },
        ticks: { font: tickFont, color: "#111", padding: 12 }
      }
    }
  };
}

function insetChart(canvas, q, lineW) {
  const ds = [];
  for (let k = 3; k >= 0; k--) {
    ds.push({
      data: q.measT ? pts(q.measT, q.meas[k]) : pairPts(q.meas[k]),
      showLine: false, pointStyle: MARK_STYLES[k], pointRotation: MARK_ROT[k], pointRadius: INSET_RADII[k],
      pointBorderColor: INSET_MARK_COLORS[k], pointBackgroundColor: "rgba(0,0,0,0)", pointBorderWidth: 0.9
    });
    ds.push({
      data: pts(q.simT, q.sim[k]), borderColor: LINE_COLORS[k], borderWidth: lineW,
      pointRadius: 0, cubicInterpolationMode: "monotone"
    });
  }
  new Chart(canvas, {
    type: "line",
    data: { datasets: ds },
    options: {
      responsive: false, animation: false, events: [],
      layout: { autoPadding: false, padding: { left: 1.5, top: 1.5, right: 2.5, bottom: 3 } },
      plugins: { legend: { display: false }, tooltip: { enabled: false }, insetFrame: { xFrac: q.xFrac } },
      scales: {
        x: { type: "linear", display: false, min: q.xMin, max: q.xMax },
        y: { display: false, min: q.yMin, max: q.yMax }
      }
    },
    plugins: [insetFramePlugin]
  });
}

// ---------- panels ----------
const PANELS = [
  {
    name: "Coil-A", top: 0, insetTop: 135, legend: true, xTicks: X_TICKS_300,
    curT: A_CUR_T, curI: A_CUR_I, measT: A_MEAS_T, meas: [A_MEAS_0T, A_MEAS_5T, A_MEAS_10T, A_MEAS_14T],
    simT: A_SIM_T, sim: [A_SIM_0T, A_SIM_5T, A_SIM_10T, A_SIM_14T],
    in1: { xMin: 0, xMax: 100, yMin: -0.2, yMax: 7.0, xFrac: [0.5], simT: IN1_SIM_T,
      sim: [A_IN1_SIM_0T, A_IN1_SIM_5T, A_IN1_SIM_10T, A_IN1_SIM_14T], meas: [A_IN1_MEAS_0T, A_IN1_MEAS_5T, A_IN1_MEAS_10T, A_IN1_MEAS_14T] },
    in2: { xMin: 190, xMax: 260, yMin: -43, yMax: 0.3, xFrac: [0.17, 0.6], simT: A_IN2_SIM_T,
      sim: [A_IN2_SIM_0T, A_IN2_SIM_5T, A_IN2_SIM_10T, A_IN2_SIM_14T], measT: A_IN2_MEAS_T, meas: [A_IN2_MEAS_0T, A_IN2_MEAS_5T, A_IN2_MEAS_10T, A_IN2_MEAS_14T] }
  },
  {
    name: "Coil-B", top: 509, insetTop: 134, legend: false, xTicks: X_TICKS_300,
    curT: B_CUR_T, curI: B_CUR_I, measT: B_MEAS_T, meas: [B_MEAS_0T, B_MEAS_5T, B_MEAS_10T, B_MEAS_14T],
    simT: B_SIM_T, sim: [B_SIM_0T, B_SIM_5T, B_SIM_10T, B_SIM_14T],
    in1: { xMin: 0, xMax: 100, yMin: -0.2, yMax: 7.0, xFrac: [0.5], simT: IN1_SIM_T,
      sim: [B_IN1_SIM_0T, B_IN1_SIM_5T, B_IN1_SIM_10T, B_IN1_SIM_14T], meas: [B_IN1_MEAS_0T, B_IN1_MEAS_5T, B_IN1_MEAS_10T, B_IN1_MEAS_14T] },
    in2: { xMin: 205, xMax: 328.3, yMin: -30.1, yMax: 0.3, xFrac: [0.43], simT: B_IN2_SIM_T,
      sim: [B_IN2_SIM_0T, B_IN2_SIM_5T, B_IN2_SIM_10T, B_IN2_SIM_14T], measT: B_IN2_MEAS_T, meas: [B_IN2_MEAS_0T, B_IN2_MEAS_5T, B_IN2_MEAS_10T, B_IN2_MEAS_14T] }
  },
  {
    name: "Coil-C", top: 1020, insetTop: 135, legend: false, xTicks: X_TICKS_400,
    curT: C_CUR_T, curI: C_CUR_I, measT: C_MEAS_T, meas: [C_MEAS_0T, C_MEAS_5T, C_MEAS_10T, C_MEAS_14T],
    simT: C_SIM_T, sim: [C_SIM_0T, C_SIM_5T, C_SIM_10T, C_SIM_14T],
    in1: { xMin: 0, xMax: 101.4, yMin: -0.2, yMax: 7.0, xFrac: [0.5], simT: C_IN1_SIM_T,
      sim: [C_IN1_SIM_0T, C_IN1_SIM_5T, C_IN1_SIM_10T, C_IN1_SIM_14T], meas: [C_IN1_MEAS_0T, C_IN1_MEAS_5T, C_IN1_MEAS_10T, C_IN1_MEAS_14T] },
    in2: { xMin: 275.4, xMax: 412.4, yMin: -30.26, yMax: 0.3, xFrac: [0.2, 0.6], simT: C_IN2_SIM_T,
      sim: [C_IN2_SIM_0T, C_IN2_SIM_5T, C_IN2_SIM_10T, C_IN2_SIM_14T], measT: C_IN2_MEAS_T, meas: [C_IN2_MEAS_0T, C_IN2_MEAS_5T, C_IN2_MEAS_10T, C_IN2_MEAS_14T] }
  }
];

const fig = document.getElementById("fig");
PANELS.forEach(p => {
  const panel = document.createElement("div");
  panel.className = "panel";
  panel.style.top = p.top + "px";
  const cv = document.createElement("canvas");
  cv.width = 1036; cv.height = 497;
  panel.appendChild(cv);
  fig.appendChild(panel);
  new Chart(cv, {
    type: "line",
    data: { datasets: mainDatasets(p) },
    options: mainOptions(p),
    plugins: [gridPlugin, dotPlugin, labelPlugin, legendPlugin, framePlugin, rightTitlePlugin]
  });
  [p.in1, p.in2].forEach((q, j) => {
    const box = document.createElement("div");
    box.className = "inset";
    box.style.left = (j ? 367 : 105) + "px";
    box.style.top = p.insetTop + "px";
    const ic = document.createElement("canvas");
    ic.width = 248; ic.height = 248;
    box.appendChild(ic);
    panel.appendChild(box);
    insetChart(ic, q, j ? 1.1 : 1.7);
  });
});
</script>
</body>
</html>
